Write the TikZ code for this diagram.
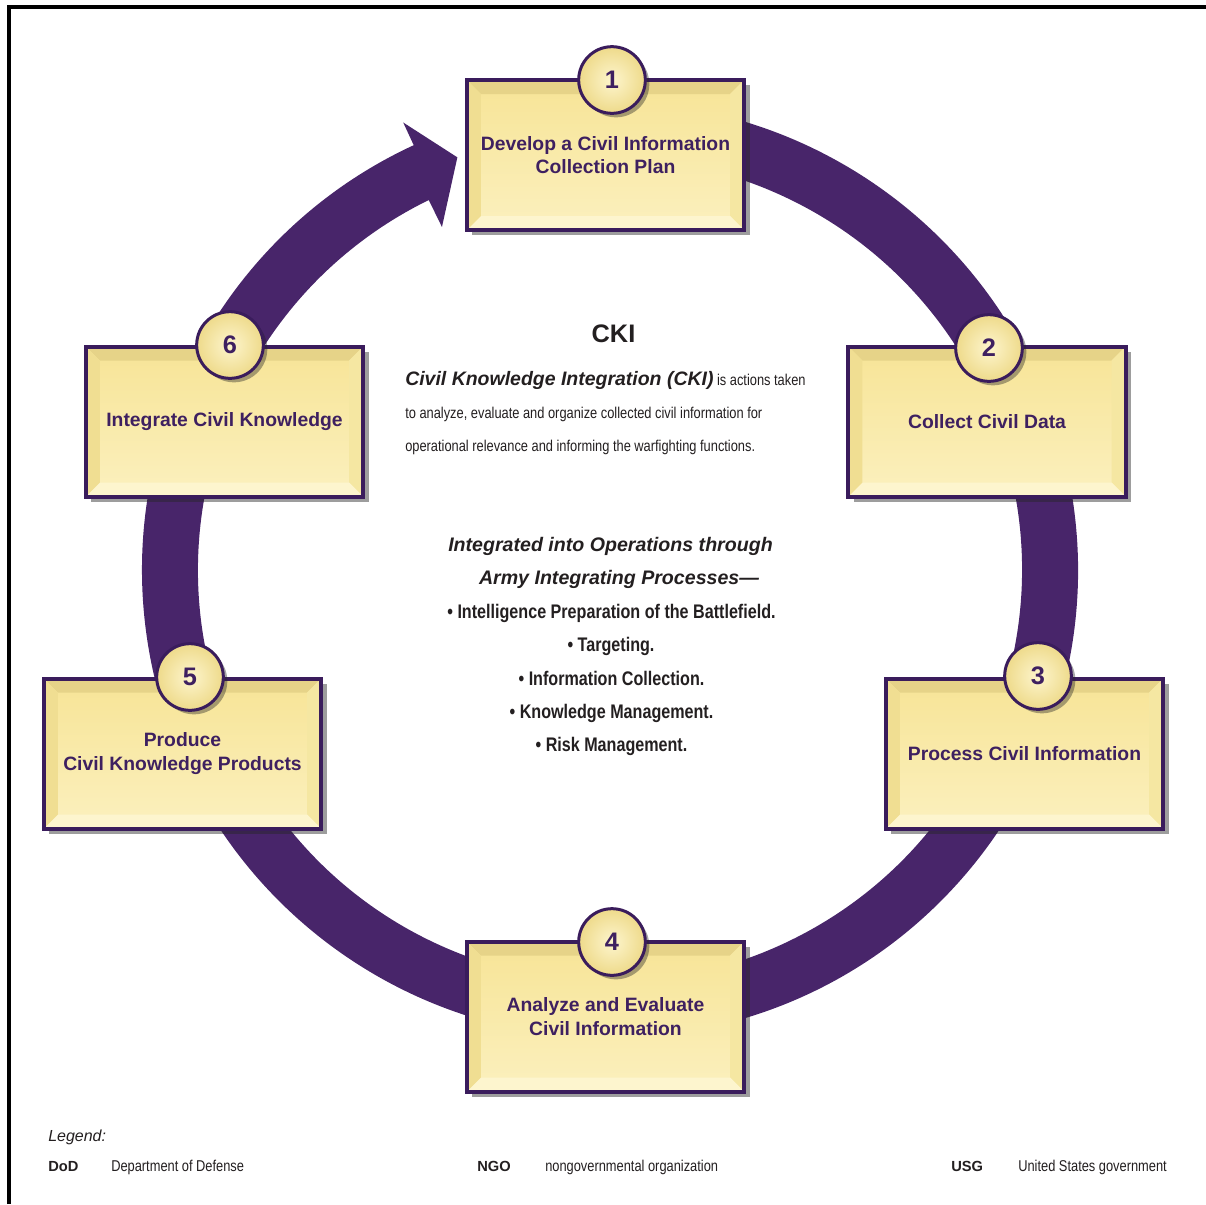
\documentclass[tikz,border=0pt]{standalone}
\usepackage{fontspec}
\setmainfont{Liberation Sans}
\newfontfamily\narrowfont{Liberation Sans}[FakeStretch=0.82]
\usetikzlibrary{calc,shadows,positioning}

\definecolor{ringpurple}{RGB}{72,37,106}
\definecolor{edgepurple}{RGB}{58,28,92}
\definecolor{stepink}{RGB}{62,32,96}
\definecolor{inkgray}{RGB}{35,31,32}
\definecolor{faceA}{RGB}{247,228,150}
\definecolor{faceB}{RGB}{251,240,190}
\definecolor{bevtop}{RGB}{230,211,136}
\definecolor{bevleft}{RGB}{240,222,146}
\definecolor{bevright}{RGB}{245,231,162}
\definecolor{bevbot}{RGB}{253,245,206}
\definecolor{discin}{RGB}{253,245,205}
\definecolor{discout}{RGB}{238,218,138}

\tikzset{
  stepbox/.style={draw=edgepurple, line width=3pt, inner sep=0pt,
    minimum width=208pt, minimum height=112.5pt, align=center,
    top color=faceA, bottom color=faceB, text=stepink,
    font=\bfseries\fontsize{14.5}{17.5}\selectfont,
    drop shadow={shadow xshift=4pt, shadow yshift=-4pt, opacity=0.45, fill=black!85},
    path picture={
      \coordinate (pp-tl) at (path picture bounding box.north west);
      \coordinate (pp-tr) at (path picture bounding box.north east);
      \coordinate (pp-bl) at (path picture bounding box.south west);
      \coordinate (pp-br) at (path picture bounding box.south east);
      \fill[bevtop] (pp-tl) -- (pp-tr) -- ([shift={(-14,-14)}]pp-tr) -- ([shift={(14,-14)}]pp-tl) -- cycle;
      \fill[bevright] (pp-tr) -- (pp-br) -- ([shift={(-14,14)}]pp-br) -- ([shift={(-14,-14)}]pp-tr) -- cycle;
      \fill[bevbot] (pp-br) -- (pp-bl) -- ([shift={(14,14)}]pp-bl) -- ([shift={(-14,14)}]pp-br) -- cycle;
      \fill[bevleft] (pp-bl) -- (pp-tl) -- ([shift={(14,-14)}]pp-tl) -- ([shift={(14,14)}]pp-bl) -- cycle;
    }},
  stepdisc/.style={circle, draw=edgepurple, line width=2.25pt, inner sep=0pt,
    minimum size=50pt, inner color=discin, outer color=discout, text=stepink,
    font=\bfseries\fontsize{19}{22}\selectfont,
    drop shadow={shadow xshift=3pt, shadow yshift=-3pt, opacity=0.4, fill=black!85}},
  infoline/.style={anchor=base west, inner sep=0pt, text=inkgray,
    font=\narrowfont\fontsize{11.75}{13}\selectfont},
  aipline/.style={anchor=base, inner sep=0pt, text=inkgray,
    font=\narrowfont\bfseries\fontsize{14.75}{17}\selectfont},
  legendkey/.style={anchor=base west, inner sep=0pt, text=inkgray,
    font=\bfseries\fontsize{11}{13}\selectfont},
  legendtext/.style={anchor=base west, inner sep=0pt, text=inkgray,
    font=\narrowfont\fontsize{11.75}{13}\selectfont},
}

\begin{document}
\begin{tikzpicture}[x=0.75pt,y=0.75pt]
\useasboundingbox (0,0) rectangle (1206,-1204);

% frame
\draw[line width=2.5pt] (9,-1204) -- (9,-7) -- (1206,-7);

% cycle arrow
\begin{scope}[shift={(610,-570)}]
  \fill[ringpurple] (460:468) arc[start angle=460, end angle=114.8, radius=468]
    -- (114.8:493) -- (110.3:440) -- (116.1:382) -- (116.1:412)
    arc[start angle=116.1, end angle=460, radius=412] -- cycle;
\end{scope}

% steps
\node[stepbox] (plan) at (605.5,-155) {Develop a Civil Information\\Collection Plan};
\node[stepbox] (collect) at (987,-421.5) {Collect Civil Data};
\node[stepbox] (process) at (1024.5,-753.5) {Process Civil Information};
\node[stepbox] (analyze) at (605.5,-1016.5) {Analyze and Evaluate\\Civil Information};
\node[stepbox] (produce) at (182.5,-753.5) {Produce\\Civil Knowledge Products};
\node[stepbox] (integrate) at (224.5,-421.5) {Integrate Civil Knowledge};

% step numbers
\node[stepdisc] (n1) at (612,-80) {1};
\node[stepdisc] (n2) at (989,-348) {2};
\node[stepdisc] (n3) at (1038,-676) {3};
\node[stepdisc] (n4) at (612,-942) {4};
\node[stepdisc] (n5) at (190,-677) {5};
\node[stepdisc] (n6) at (230,-345) {6};

% CKI definition
\node[anchor=base, inner sep=0pt, text=inkgray, font=\bfseries\fontsize{19}{22}\selectfont]
  (cki) at (613.5,-342.7) {CKI};
\node[infoline] (def1) at (405,-385)
  {{\rmfamily\bfseries\itshape\fontsize{14.6}{16}\selectfont Civil Knowledge Integration (CKI)} is actions taken};
\node[infoline] (def2) at (405,-418.3)
  {to analyze, evaluate and organize collected civil information for};
\node[infoline] (def3) at (405,-451.7)
  {operational relevance and informing the warfighting functions.};

% army integrating processes
\node[anchor=base, inner sep=0pt, text=inkgray, font=\bfseries\itshape\fontsize{14.7}{17}\selectfont]
  (aip1) at (610.5,-551.7) {Integrated into Operations through};
\node[anchor=base, inner sep=0pt, text=inkgray, font=\bfseries\itshape\fontsize{14.7}{17}\selectfont]
  (aip2) at (619,-584.3) {Army Integrating Processes—};
\node[aipline] (ipb) at (611.5,-618.3) {• Intelligence Preparation of the Battlefield.};
\node[aipline] (tgt) at (611,-651) {• Targeting.};
\node[aipline] (icol) at (611.5,-685) {• Information Collection.};
\node[aipline] (km) at (611.5,-718.3) {• Knowledge Management.};
\node[aipline] (rm) at (611.5,-751.7) {• Risk Management.};

% legend
\node[anchor=base west, inner sep=0pt, text=inkgray, font=\itshape\fontsize{12}{14}\selectfont]
  (legend) at (48,-1141) {Legend:};
\node[legendkey] (dod) at (48,-1171) {DoD};
\node[legendtext] (dodtxt) at (111,-1171) {Department of Defense};
\node[legendkey] (ngo) at (477,-1171) {NGO};
\node[legendtext] (ngotxt) at (545,-1171) {nongovernmental organization};
\node[legendkey] (usg) at (951,-1171) {USG};
\node[legendtext] (usgtxt) at (1018,-1171) {United States government};
\end{tikzpicture}
\end{document}
